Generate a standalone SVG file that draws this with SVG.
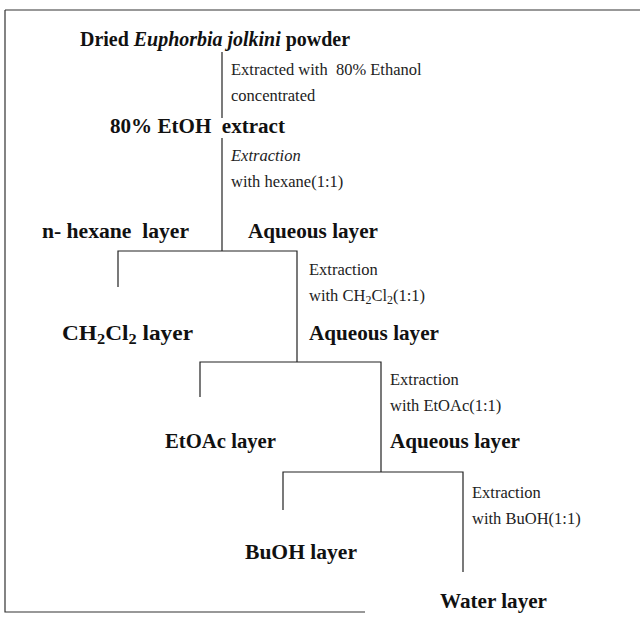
<svg xmlns="http://www.w3.org/2000/svg" width="640" height="630" viewBox="0 0 640 630">
<style>
.b{font-family:"Liberation Serif","Times New Roman",serif;font-weight:bold;font-size:20px;fill:#111}
.r{font-family:"Liberation Serif","Times New Roman",serif;font-size:16.5px;fill:#222}
.ln{stroke:#222;stroke-width:1.2;fill:none}
.fr{stroke:#333;stroke-width:1.2;fill:none}
</style>
<rect width="640" height="630" fill="#fff"/>
<g id="frame"><path class="fr" d="M5,10 H640 M5,10 V612 H365"/></g>
<g id="connectors">
<path class="ln" d="M222,52 V118"/>
<path class="ln" d="M222,138 V251"/>
<path class="ln" d="M118,287 V251 H297 V362"/>
<path class="ln" d="M200,397 V362 H381 V472"/>
<path class="ln" d="M283,510 V472 H463 V572"/>
</g>
<g id="n-start"><text class="b" x="80" y="46" textLength="270" lengthAdjust="spacingAndGlyphs">Dried <tspan font-style="italic">Euphorbia jolkini</tspan> powder</text></g>
<g id="step1"><text class="r" x="231" y="75" xml:space="preserve">Extracted with  80% Ethanol</text><text class="r" x="231" y="101">concentrated</text></g>
<g id="n-etoh"><text class="b" x="110" y="133" xml:space="preserve" textLength="175" lengthAdjust="spacingAndGlyphs">80% EtOH  extract</text></g>
<g id="step2"><text class="r" x="231" y="161" font-style="italic">Extraction</text><text class="r" x="231" y="187">with hexane(1:1)</text></g>
<g id="n-hexane"><text class="b" x="42" y="238" xml:space="preserve" textLength="147" lengthAdjust="spacingAndGlyphs">n- hexane  layer</text></g>
<g id="n-aq1"><text class="b" x="248" y="238" textLength="130" lengthAdjust="spacingAndGlyphs">Aqueous layer</text></g>
<g id="step3"><text class="r" x="309" y="275">Extraction</text><text class="r" x="309" y="301">with CH<tspan baseline-shift="-25%" font-size="12">2</tspan>Cl<tspan baseline-shift="-25%" font-size="12">2</tspan>(1:1)</text></g>
<g id="n-ch2cl2"><text class="b" x="62" y="340" textLength="131" lengthAdjust="spacingAndGlyphs">CH<tspan baseline-shift="-25%" font-size="14">2</tspan>Cl<tspan baseline-shift="-25%" font-size="14">2</tspan> layer</text></g>
<g id="n-aq2"><text class="b" x="309" y="340" textLength="130" lengthAdjust="spacingAndGlyphs">Aqueous layer</text></g>
<g id="step4"><text class="r" x="390" y="385">Extraction</text><text class="r" x="390" y="411">with EtOAc(1:1)</text></g>
<g id="n-etoac"><text class="b" x="165" y="448" textLength="111" lengthAdjust="spacingAndGlyphs">EtOAc layer</text></g>
<g id="n-aq3"><text class="b" x="390" y="448" textLength="130" lengthAdjust="spacingAndGlyphs">Aqueous layer</text></g>
<g id="step5"><text class="r" x="472" y="498">Extraction</text><text class="r" x="472" y="524">with BuOH(1:1)</text></g>
<g id="n-buoh"><text class="b" x="245" y="559" textLength="112" lengthAdjust="spacingAndGlyphs">BuOH layer</text></g>
<g id="n-water"><text class="b" x="440" y="608" textLength="107" lengthAdjust="spacingAndGlyphs">Water layer</text></g>
</svg>
